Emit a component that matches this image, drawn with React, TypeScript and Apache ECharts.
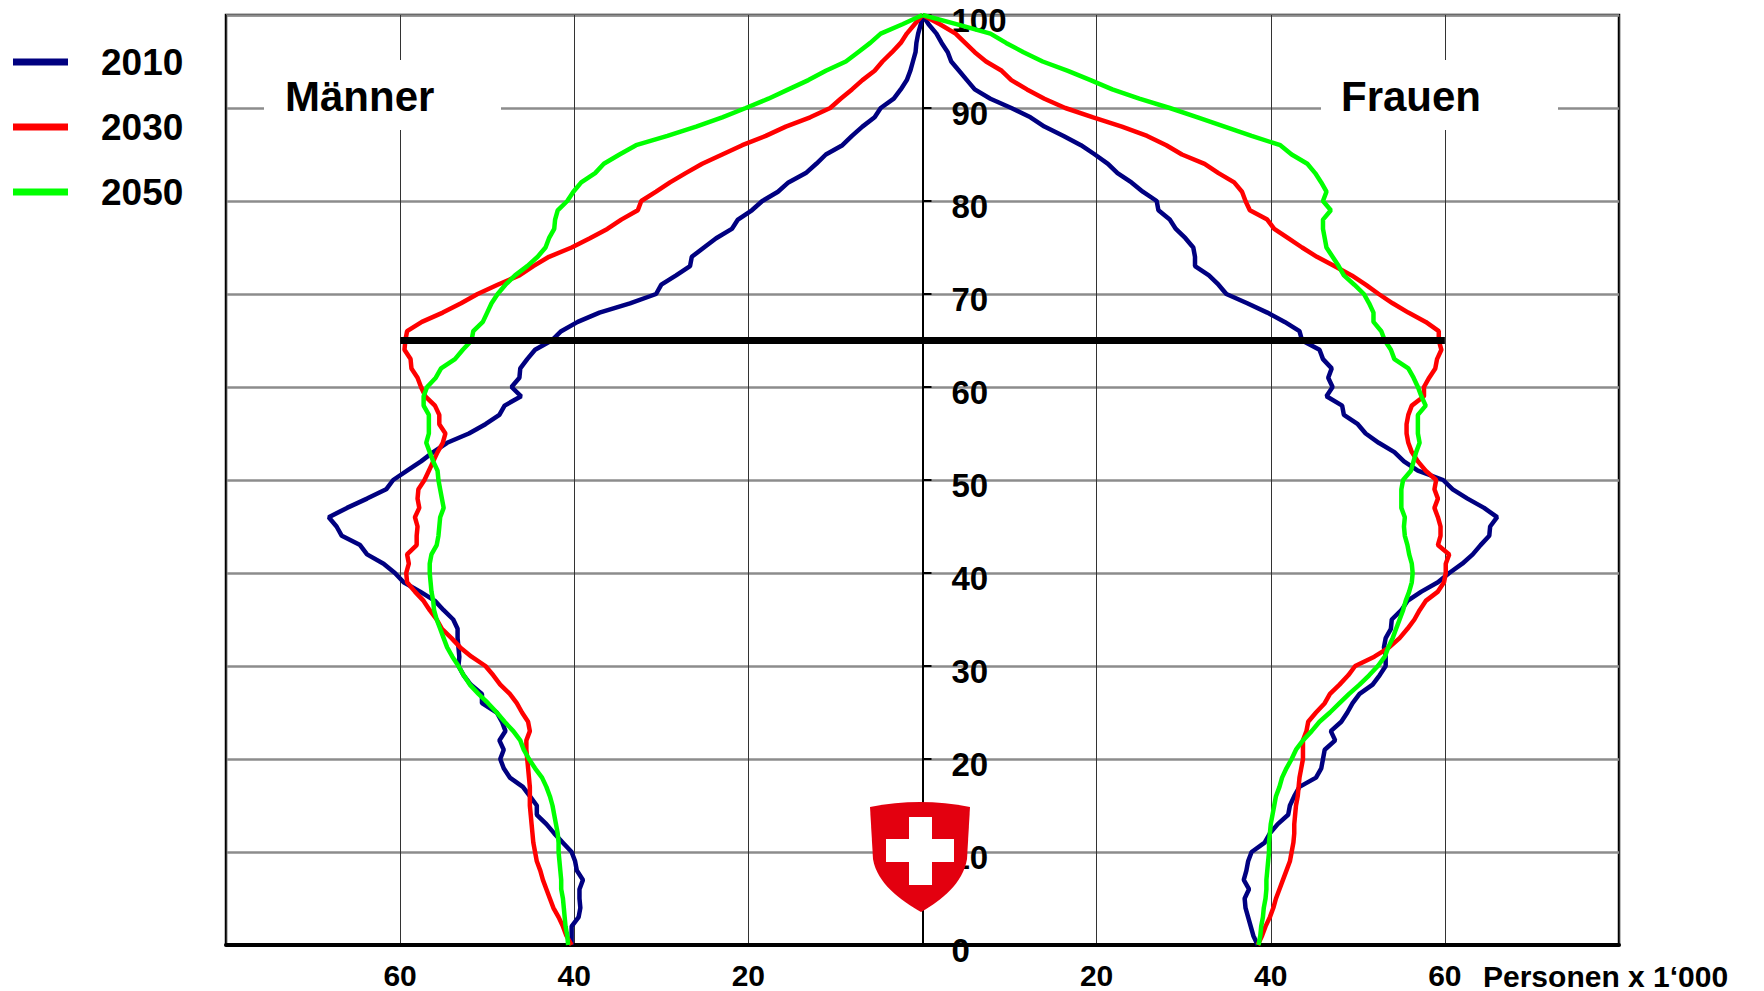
import React, { useEffect, useRef } from 'react';
import * as echarts from 'echarts';

// Ages 0..100 (y axis)
const ages: number[] = Array.from({ length: 101 }, (_, i) => i);

// Population in thousands, index = age (0..100)
const male2010 = [40.3, 40.3, 40.3, 39.5, 39.3, 39.4, 39.4, 39.0, 39.7, 39.9, 40.3, 41.3, 42.3, 43.2, 44.3, 44.3, 45.1, 45.9, 47.4, 48.1, 48.5, 48.1, 48.6, 47.9, 48.3, 48.9, 50.6, 50.6, 51.9, 52.7, 53.3, 53.2, 53.3, 53.4, 53.4, 53.9, 55.0, 56.0, 57.7, 59.6, 60.6, 61.9, 63.8, 64.6, 66.7, 67.3, 68.2, 66.1, 63.8, 61.6, 60.8, 59.2, 57.6, 56.2, 54.6, 52.1, 50.2, 48.6, 48.0, 46.1, 47.2, 46.3, 46.2, 45.4, 44.5, 42.6, 41.5, 39.6, 37.1, 33.6, 30.6, 30.0, 28.3, 26.7, 26.5, 25.1, 23.7, 21.9, 21.2, 19.6, 18.4, 16.6, 15.4, 13.4, 12.2, 11.1, 9.2, 8.1, 6.9, 5.5, 4.8, 3.3, 2.5, 1.8, 1.4, 1.1, 0.8, 0.7, 0.5, 0.2, 0];
const male2030 = [40.3, 40.9, 41.3, 41.8, 42.4, 42.8, 43.2, 43.6, 43.9, 44.3, 44.5, 44.7, 44.8, 44.9, 45.0, 45.1, 45.1, 45.1, 45.2, 45.3, 45.4, 45.5, 45.5, 45.1, 45.3, 46.0, 46.6, 47.4, 48.5, 49.3, 50.2, 51.8, 53.1, 54.1, 55.2, 55.8, 56.6, 57.3, 58.3, 59.2, 59.3, 59.0, 59.2, 58.1, 58.1, 58.0, 58.3, 57.8, 58.0, 57.9, 57.2, 56.7, 56.2, 55.7, 55.1, 54.8, 55.5, 55.5, 56.0, 57.1, 57.6, 58.0, 58.7, 58.8, 59.5, 59.4, 59.2, 57.5, 55.1, 53.0, 51.1, 48.8, 46.3, 44.7, 42.9, 40.3, 38.2, 36.2, 34.6, 32.7, 32.3, 30.6, 29.0, 27.2, 25.3, 23.0, 20.7, 18.0, 15.7, 12.9, 10.6, 9.4, 8.1, 6.9, 5.5, 4.6, 3.5, 2.5, 1.8, 0.9, 0];
const male2050 = [40.7, 40.8, 41.0, 41.1, 41.2, 41.3, 41.5, 41.5, 41.6, 41.7, 41.8, 41.8, 41.9, 42.1, 42.3, 42.5, 42.8, 43.2, 43.7, 44.5, 45.2, 45.8, 46.2, 47.0, 48.0, 48.9, 49.9, 51.0, 52.0, 52.7, 53.3, 54.0, 54.6, 55.0, 55.4, 55.8, 56.1, 56.2, 56.4, 56.5, 56.6, 56.6, 56.4, 55.8, 55.6, 55.5, 55.4, 55.0, 55.2, 55.4, 55.6, 55.7, 56.2, 56.6, 57.0, 56.7, 56.7, 56.7, 57.3, 57.3, 56.9, 55.9, 55.3, 53.7, 52.8, 51.8, 51.6, 50.5, 50.0, 49.5, 48.8, 47.9, 46.8, 45.4, 44.2, 43.3, 42.9, 42.3, 42.2, 41.9, 40.8, 40.1, 39.2, 37.6, 36.6, 34.8, 32.9, 29.3, 26.0, 23.0, 20.3, 17.7, 15.4, 13.1, 11.1, 8.8, 7.4, 6.0, 4.8, 2.3, 0];
const female2010 = [38.5, 38.0, 37.7, 37.4, 37.1, 37.0, 37.5, 36.9, 37.2, 37.4, 37.8, 39.3, 39.9, 40.8, 42.0, 42.2, 42.7, 43.3, 45.2, 45.8, 46.0, 46.2, 47.4, 46.9, 48.1, 48.8, 49.4, 50.2, 51.7, 52.5, 53.2, 53.2, 53.0, 53.2, 53.8, 53.9, 55.0, 55.7, 57.3, 59.2, 60.5, 62.0, 63.2, 64.1, 65.1, 65.2, 66.0, 64.5, 62.6, 60.9, 59.8, 56.9, 55.3, 54.2, 52.4, 50.9, 50.0, 48.4, 48.2, 46.4, 47.1, 46.6, 47.0, 46.0, 45.6, 43.6, 43.3, 41.6, 39.6, 37.3, 34.9, 34.0, 32.9, 31.3, 31.3, 31.1, 30.2, 29.1, 28.4, 27.1, 26.9, 25.3, 24.0, 22.4, 21.3, 19.8, 18.2, 16.2, 14.0, 12.4, 10.2, 7.8, 6.0, 5.1, 4.2, 3.3, 2.9, 2.2, 1.6, 0.7, 0];
const female2030 = [38.5, 39.0, 39.4, 39.9, 40.3, 40.6, 41.0, 41.4, 41.8, 42.2, 42.4, 42.6, 42.7, 42.7, 42.8, 42.9, 43.1, 43.2, 43.3, 43.5, 43.7, 43.7, 43.7, 44.1, 44.3, 45.2, 46.2, 46.8, 47.9, 48.9, 49.7, 51.9, 53.6, 54.8, 55.7, 56.5, 57.1, 57.8, 59.2, 59.9, 60.1, 60.1, 60.5, 59.2, 59.5, 59.5, 59.2, 58.8, 59.2, 58.8, 59.0, 57.8, 56.9, 56.2, 55.8, 55.6, 55.6, 55.8, 56.2, 57.6, 57.6, 58.2, 58.9, 59.1, 59.6, 59.3, 59.3, 57.8, 55.8, 54.0, 52.4, 50.9, 49.3, 47.3, 45.3, 43.6, 42.0, 40.4, 39.6, 37.6, 37.1, 36.7, 35.8, 34.0, 32.4, 29.8, 28.0, 25.8, 22.9, 19.6, 16.4, 14.0, 12.0, 10.2, 9.1, 7.3, 6.0, 4.9, 3.8, 2.0, 0];
const female2050 = [38.6, 38.8, 38.9, 39.1, 39.2, 39.4, 39.5, 39.5, 39.6, 39.7, 39.8, 39.8, 39.9, 40.0, 40.2, 40.4, 40.6, 41.0, 41.3, 41.8, 42.4, 42.9, 43.7, 44.7, 45.6, 46.8, 47.9, 49.0, 50.2, 51.3, 52.3, 53.1, 53.5, 54.0, 54.4, 54.8, 55.2, 55.5, 55.9, 56.2, 56.3, 56.2, 55.9, 55.7, 55.4, 55.3, 55.4, 55.0, 55.0, 55.0, 55.2, 56.1, 56.4, 56.7, 57.1, 56.9, 56.9, 56.9, 57.8, 57.3, 56.9, 56.4, 55.8, 54.2, 53.8, 53.1, 52.7, 51.8, 51.8, 51.3, 50.7, 49.6, 48.4, 47.8, 47.1, 46.4, 46.2, 46.0, 46.0, 46.9, 46.0, 46.4, 45.8, 45.1, 44.2, 42.4, 41.1, 37.8, 34.7, 31.6, 28.4, 24.9, 21.8, 19.3, 16.7, 13.8, 11.6, 9.6, 7.8, 4.0, 0];

const years = ['2010', '2030', '2050'];
const colors = ['#000080', '#ff0000', '#00ff00'];
const maleSeries = [male2010, male2030, male2050];
const femaleSeries = [female2010, female2030, female2050];

// Retirement age marker line (age 65, from 60k men to 60k women)
const retirementAge = 65;
const retirementSpan = [-60, 60];

const FONT = '"Liberation Sans", Arial, Helvetica, sans-serif';

const GRID_LEFT = 226;
const GRID_RIGHT = 145;
const CHART_W = 1764;
const CHART_H = 991;
const GRID_W = CHART_W - GRID_LEFT - GRID_RIGHT;

const SHIELD_PATH = 'M0,6 Q50,-4 100,6 L97,58 C93,82 72,99 51,111 C30,99 7,82 3,58 Z';
echarts.graphic.registerShape('swissShield', echarts.graphic.extendPath(SHIELD_PATH, {}) as any);

export default function App() {
  const ref = useRef<HTMLDivElement>(null);

  useEffect(() => {
    if (!ref.current) return;
    const chart = echarts.init(ref.current, undefined, { renderer: 'svg' });

    const series: any[] = [];
    years.forEach((y, k) => {
      series.push({
        name: y,
        type: 'line',
        data: maleSeries[k].map((v, i) => [-v, ages[i]]),
        showSymbol: false,
        symbol: 'none',
        color: colors[k],
        lineStyle: { color: colors[k], width: 4.5 },
        z: 2,
      });
      series.push({
        name: y,
        type: 'line',
        data: femaleSeries[k].map((v, i) => [v, ages[i]]),
        showSymbol: false,
        symbol: 'none',
        color: colors[k],
        lineStyle: { color: colors[k], width: 4.5 },
        z: 2,
      });
    });
    series.push({
      name: 'Rentenalter',
      type: 'line',
      data: retirementSpan.map((x) => [x, retirementAge]),
      symbol: 'none',
      color: '#000',
      lineStyle: { color: '#000', width: 7 },
      z: 4,
    });

    chart.setOption({
      animation: false,
      backgroundColor: '#fff',
      grid: {
        left: GRID_LEFT,
        right: GRID_RIGHT,
        top: 15,
        bottom: 46,
        show: true,
        borderColor: '#000',
        borderWidth: 2.5,
        containLabel: false,
      },
      legend: {
        data: years,
        orient: 'vertical',
        left: 8,
        top: 37,
        icon: 'rect',
        itemWidth: 55,
        itemHeight: 7,
        itemGap: 25,
        selectedMode: false,
        textStyle: {
          fontFamily: FONT,
          fontSize: 37,
          fontWeight: 'bold',
          color: '#000',
          lineHeight: 40,
          padding: [0, 0, 0, 28],
        },
      },
      xAxis: {
        type: 'value',
        min: -80,
        max: 80,
        interval: 20,
        axisLine: { show: true, onZero: false, lineStyle: { color: '#000', width: 4 } },
        axisTick: { show: false },
        splitLine: { show: true, lineStyle: { color: '#333', width: 1 } },
        axisLabel: {
          margin: 15,
          fontFamily: FONT,
          fontSize: 30,
          fontWeight: 'bold',
          color: '#000',
          formatter: (v: number) => (v === 0 || Math.abs(v) === 80 ? '' : String(Math.abs(v))),
        },
      },
      yAxis: {
        type: 'value',
        min: 0,
        max: 100,
        interval: 10,
        position: 'right',
        offset: -GRID_W / 2,
        axisLine: { show: true, onZero: false, lineStyle: { color: '#000', width: 2 } },
        axisTick: { show: true, inside: false, length: 9, lineStyle: { color: '#000', width: 2 } },
        splitLine: { show: true, lineStyle: { color: '#8c8c8c', width: 2.5 } },
        axisLabel: {
          margin: 29,
          verticalAlign: 'top',
          lineHeight: 10,
          fontFamily: FONT,
          fontSize: 33,
          fontWeight: 'bold',
          color: '#000',
          showMinLabel: true,
          showMaxLabel: true,
        },
      },
      graphic: [
        { type: 'rect', z: 1, shape: { x: 264, y: 60, width: 237, height: 70 }, style: { fill: '#fff' } },
        { type: 'rect', z: 1, shape: { x: 1321, y: 60, width: 237, height: 70 }, style: { fill: '#fff' } },
        {
          type: 'text', z: 5, x: 285, y: 96,
          style: { text: 'Männer', font: `bold 42px ${FONT}`, fill: '#000', verticalAlign: 'middle', align: 'left' },
        },
        {
          type: 'text', z: 5, x: 1341, y: 96,
          style: { text: 'Frauen', font: `bold 42px ${FONT}`, fill: '#000', verticalAlign: 'middle', align: 'left' },
        },
        {
          type: 'text', z: 5, x: 1483, y: 976,
          style: { text: 'Personen x 1‘000', font: `bold 30px ${FONT}`, fill: '#000', verticalAlign: 'middle', align: 'left' },
        },
        { type: 'swissShield', z: 10, x: 870, y: 801, scaleX: 1, scaleY: 1, style: { fill: '#e3000f' } },
        { type: 'rect', z: 11, shape: { x: 909, y: 817, width: 23, height: 68 }, style: { fill: '#fff' } },
        { type: 'rect', z: 11, shape: { x: 886, y: 839, width: 68, height: 23 }, style: { fill: '#fff' } },
      ],
      series,
    });

    return () => chart.dispose();
  }, []);

  return (
    <div
      ref={ref}
      style={{ position: 'fixed', left: 0, top: 0, width: CHART_W, height: CHART_H, background: '#fff' }}
    />
  );
}
